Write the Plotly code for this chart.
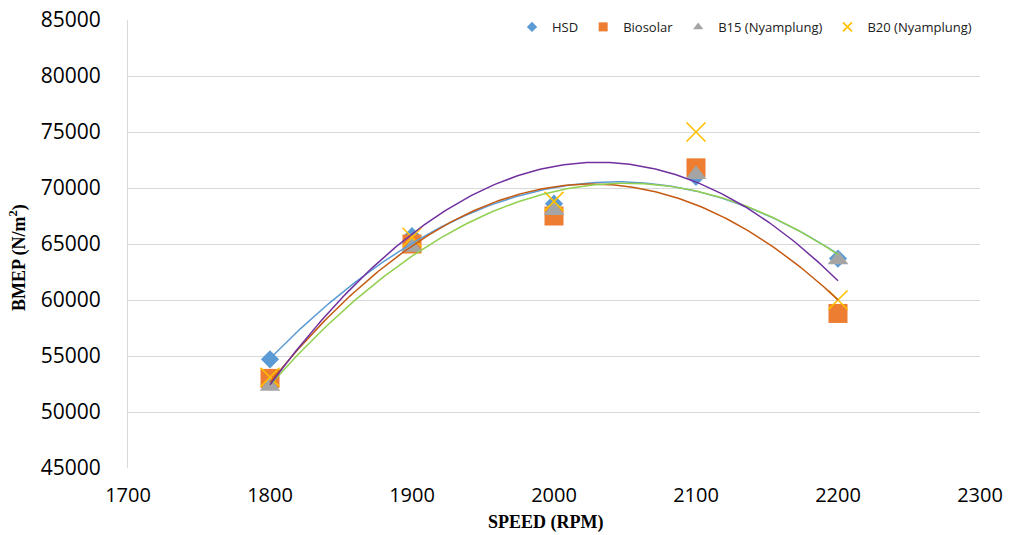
import numpy as np
import plotly.graph_objects as go

speed = [1800, 1900, 2000, 2100, 2200]
hsd = [54700, 65700, 68600, 71000, 63700]
biosolar = [53000, 65000, 67500, 71800, 58800]
b15 = [52300, 64700, 68000, 71200, 63600]
b20 = [53100, 65600, 68800, 75000, 60000]

series = [
    ("HSD", hsd, "diamond", "#5B9BD5", 14, "#5B9BD5", 8),
    ("Biosolar", biosolar, "square", "#ED7D31", 19, "#C55A11", 9),
    ("B15 (Nyamplung)", b15, "triangle-up", "#A5A5A5", 18, "#92D050", 9),
    ("B20 (Nyamplung)", b20, "x-thin", "#FFC000", 19, "#7030A0", 9),
]

def mk(sym, col, size):
    if sym == "x-thin":
        return dict(symbol=sym, size=size, line=dict(color=col, width=1.6))
    return dict(symbol=sym, size=size, color=col, line=dict(width=0))

fig = go.Figure()
for name, vals, sym, col, size, tcol, lsize in series:
    fig.add_trace(go.Scatter(x=speed, y=vals, mode="markers", name=name,
                             marker=mk(sym, col, size), showlegend=False))

xs = np.linspace(speed[0], speed[-1], 200)
for name, vals, sym, col, size, tcol, lsize in series:
    c = np.polyfit(speed, vals, 2)
    fig.add_trace(go.Scatter(x=xs, y=np.polyval(c, xs), mode="lines",
                             line=dict(color=tcol, width=1.5), showlegend=False,
                             hoverinfo="skip"))

# legend entries with small symbols
for name, vals, sym, col, size, tcol, lsize in series:
    fig.add_trace(go.Scatter(x=[None], y=[None], mode="markers", name=name,
                             marker=mk(sym, col, lsize), showlegend=True))

font_sans = "Open Sans, Liberation Sans"
font_serif = "Liberation Serif, Times New Roman"

fig.update_layout(
    template="none",
    width=1013, height=535,
    margin=dict(l=128, r=33, t=20, b=67),
    paper_bgcolor="white", plot_bgcolor="white",
    showlegend=True,
    legend=dict(orientation="h", x=0.9965, xanchor="right", y=1.018, yanchor="top",
                font=dict(family=font_sans, size=13, color="#202020"),
                bgcolor="rgba(0,0,0,0)", itemwidth=30, tracegroupgap=0,
                borderwidth=0),
    xaxis=dict(range=[1700, 2300], dtick=100, tick0=1700, showgrid=False,
               showline=False, zeroline=False, ticks="", automargin=False,
               tickformat="d", ticklabelstandoff=13,
               tickfont=dict(family=font_sans, size=20, color="#000000")),
    yaxis=dict(range=[45000, 85000], dtick=5000, tick0=45000, showgrid=True,
               gridcolor="#D9D9D9", gridwidth=1, showline=True, linecolor="#D9D9D9",
               linewidth=1, zeroline=False, ticks="", automargin=False,
               tickformat="d", ticklabelstandoff=22,
               tickfont=dict(family=font_sans, size=21, color="#000000")),
    annotations=[
        dict(text="<b>SPEED (RPM)</b>", xref="paper", yref="paper", x=0.5, y=0,
             xanchor="center", yanchor="middle", yshift=-54, xshift=-8, showarrow=False,
             font=dict(family=font_serif, size=18, color="#000000")),
        dict(text="<b>BMEP (N/m<sup>2</sup>)</b>", xref="paper", yref="paper", x=0, y=0.5,
             xanchor="center", yanchor="middle", xshift=-110, yshift=-14, textangle=-90,
             showarrow=False, font=dict(family=font_serif, size=18, color="#000000")),
    ],
)
fig.write_html("out.html")
